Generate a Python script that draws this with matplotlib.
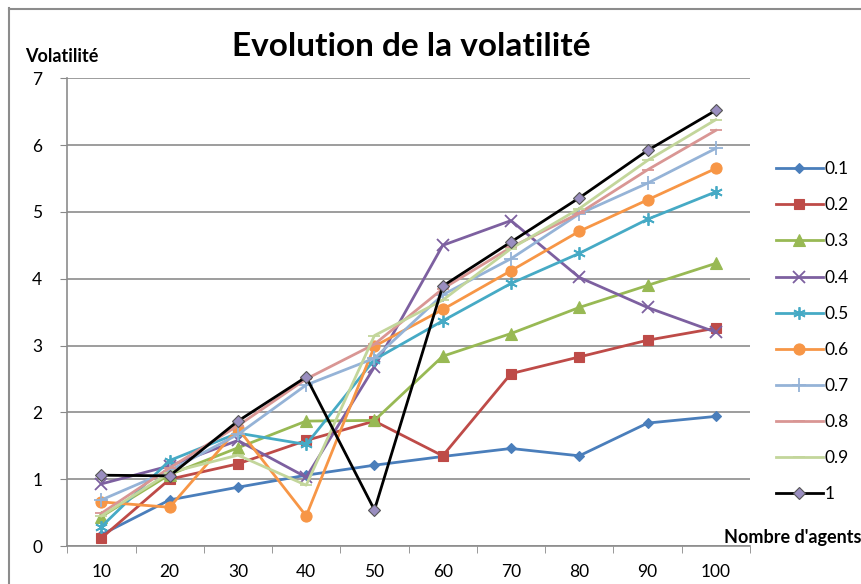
import numpy as np
import matplotlib
matplotlib.use("Agg")
import matplotlib.pyplot as plt
from matplotlib.lines import Line2D

# Nombre d'agents (categories)
agents = [10, 20, 30, 40, 50, 60, 70, 80, 90, 100]

# volatility per parameter value
s01 = [0.17, 0.69, 0.88, 1.06, 1.21, 1.34, 1.46, 1.35, 1.84, 1.94]
s02 = [0.12, 1.00, 1.23, 1.58, 1.87, 1.35, 2.58, 2.83, 3.08, 3.26]
s03 = [0.44, 1.07, 1.47, 1.87, 1.88, 2.84, 3.18, 3.57, 3.90, 4.23]
s04 = [0.93, 1.20, 1.58, 1.03, 2.68, 4.50, 4.87, 4.02, 3.57, 3.20]
s05 = [0.29, 1.28, 1.69, 1.52, 2.79, 3.37, 3.93, 4.38, 4.89, 5.30]
s06 = [0.66, 0.58, 1.76, 0.45, 2.99, 3.54, 4.12, 4.71, 5.18, 5.65]
s07 = [0.69, 1.13, 1.67, 2.41, 2.81, 3.76, 4.30, 4.97, 5.43, 5.95]
s08 = [0.49, 1.17, 1.80, 2.50, 3.02, 3.85, 4.47, 4.98, 5.63, 6.22]
s09 = [0.45, 1.10, 1.36, 0.91, 3.15, 3.68, 4.45, 5.05, 5.77, 6.38]
s10 = [1.06, 1.05, 1.87, 2.53, 0.54, 3.89, 4.55, 5.21, 5.92, 6.52]

labels = ["0.1", "0.2", "0.3", "0.4", "0.5", "0.6", "0.7", "0.8", "0.9", "1"]
series = [s01, s02, s03, s04, s05, s06, s07, s08, s09, s10]

# (color, marker, markersize, marker face color)
styles = [
    ("#4A7EBB", "D", 5, None),
    ("#BE4B48", "s", 7.5, None),
    ("#98B954", "^", 8, None),
    ("#7D60A0", "x", 9, None),
    ("#46AAC5", (6, 2, 0), 9, None),
    ("#F79646", "o", 8, None),
    ("#95B3D7", "+", 10, None),
    ("#D99694", "_", 9, None),
    ("#C3D69B", "_", 9, None),
    ("#000000", "D", 6, "#9A8EC0"),
]

plt.rcParams['font.family'] = ['Lato', 'DejaVu Sans']

fig = plt.figure(figsize=(8.62, 5.84), dpi=100)
ax = fig.add_axes([0.078, 0.065, 0.792, 0.801])

x = np.arange(len(agents))
for vals, lab, (col, mk, ms, mfc) in zip(series, labels, styles):
    ax.plot(x, vals, color=col, lw=2.0, marker=mk, markersize=ms,
            markerfacecolor=mfc if mfc else col, markeredgecolor=col if mfc is None else "#555555",
            markeredgewidth=1.3 if mk in ("x", "+", (6, 2, 0), "_") else 0.8,
            label=lab, zorder=3)

ax.set_xlim(-0.5, len(agents) - 0.5)
ax.set_ylim(0, 7)
ax.set_yticks(range(0, 8))
ax.set_xticks(x)
ax.set_xticklabels([str(a) for a in agents])
ax.set_xticks(np.arange(-0.5, len(agents), 1.0), minor=True)
ax.tick_params(axis='x', which='major', length=0, labelsize=12.5, pad=13)
ax.tick_params(axis='x', which='minor', length=5, color="#888888", direction='out')
ax.tick_params(axis='y', length=5, color="#888888", labelsize=12.5, pad=13)

ax.grid(axis='y', color="#8c8c8c", lw=1.2)
ax.set_axisbelow(True)
for side in ("top", "right"):
    ax.spines[side].set_visible(False)
for side in ("left", "bottom"):
    ax.spines[side].set_color("#8c8c8c")
    ax.spines[side].set_linewidth(1.2)

# chart frame (top and left edges visible)
fig.add_artist(Line2D([9 / 862, 1], [1 - 8.5 / 584, 1 - 8.5 / 584], color="#8c8c8c", lw=1.5))
fig.add_artist(Line2D([9.5 / 862, 9.5 / 862], [0, 1 - 8 / 584], color="#8c8c8c", lw=1.5))

fig.text(0.477, 0.920, "Evolution de la volatilité", ha='center', va='center',
         fontsize=24, fontweight='bold')
fig.text(0.029, 0.903, "Volatilité", ha='left', va='center', fontsize=13, fontweight='bold')
fig.text(0.999, 0.079, "Nombre d'agents", ha='right', va='center', fontsize=13, fontweight='bold')

leg = fig.legend(loc='upper left', bbox_to_anchor=(0.900, 0.724), frameon=False,
                 fontsize=12.5, handlelength=2.7, labelspacing=1.16, handletextpad=0.1,
                 borderpad=0, borderaxespad=0)

fig.savefig("out.png", dpi=100)
